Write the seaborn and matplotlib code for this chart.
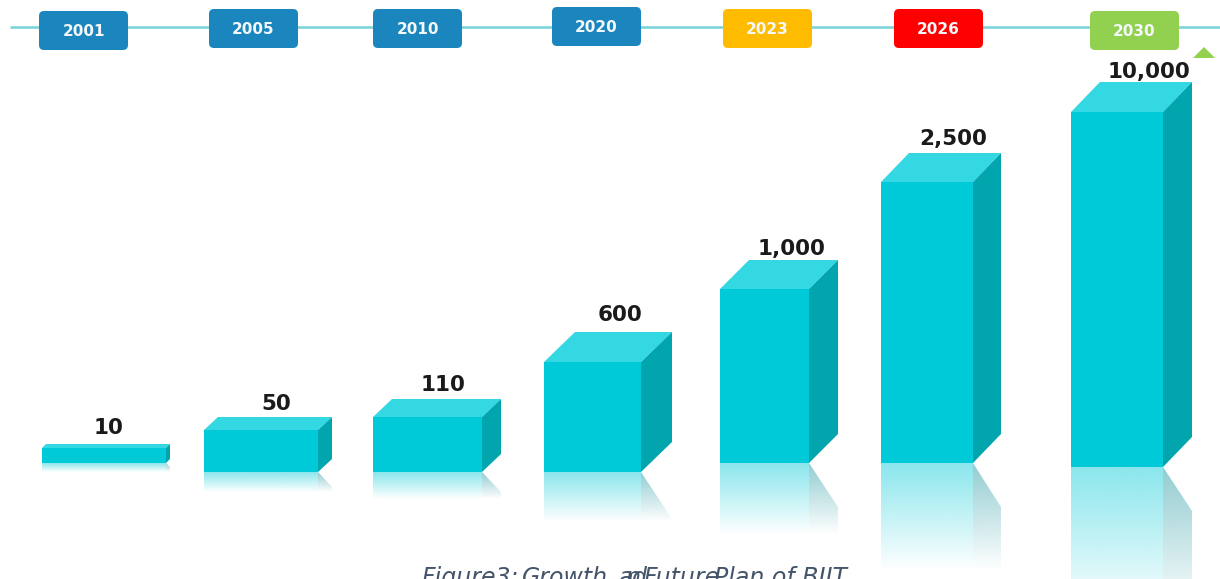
import numpy as np
import pandas as pd
import matplotlib
matplotlib.use("Agg")
import matplotlib.pyplot as plt
from matplotlib.patches import FancyBboxPatch, Polygon
from matplotlib.transforms import Affine2D
import seaborn as sns

# Chart data
years = ["2001", "2005", "2010", "2020", "2023", "2026", "2030"]
totals = [10, 50, 110, 600, 1000, 2500, 10000]
total_labels = ["10", "50", "110", "600", "1,000", "2,500", "10,000"]
caption_parts = ["Figure3:", "Growth", "a", "n", "d", "Future", "Plan of BIIT"]

# Layout, in pixels from the top-left corner of a 1220x579 canvas
W, H, BASE = 1220, 579, 472
bar_left = [42, 204, 373, 544, 720, 881, 1071]
bar_right = [166, 318, 482, 641, 809, 973, 1163]
bar_lift = [9, 0, 0, 0, 9, 9, 5]
depth_x = [4, 14, 19, 31, 29, 28, 29]
depth_y = [4, 13, 18, 30, 29, 29, 30]
echo_len = [9, 20, 27, 50, 72, 108, 150]
echo_slant = [4, 15, 20, 47, 44, 44, 44]
label_x = [108, 276, 443, 620, 791, 953, 1149]
label_y = [428, 404, 385, 315, 249, 139, 72]
badge_left = [39, 209, 373, 552, 723, 894, 1090]
badge_top = [11, 9, 9, 7, 9, 9, 11]
badge_w, badge_h = 89, 39
badge_colors = ["#1a86bd", "#1a86bd", "#1a86bd", "#1a86bd", "#ffbb00", "#ff0000", "#92d050"]
caption_x = [421, 522, 618, 625, 632, 643, 714]

FRONT, TOP, SIDE = "#00c9d8", "#33d8e2", "#00a5ae"
ECHO_FRONT, ECHO_SIDE = "#1fd0dc", "#2f9ea6"

# The value axis of this chart is pictorial: a piecewise scale from total to bar height
scale_v = np.array([-107, 0, 10, 50, 110, 600, 1000, 2500, 10000, 10117], dtype=float)
scale_px = np.array([-107, 0, 15, 42, 55, 110, 174, 281, 355, 472], dtype=float)


def to_px(v):
    return np.interp(v, scale_v, scale_px)


def from_px(p):
    return np.interp(p, scale_px, scale_v)


sns.set_theme(style="white")
plt.rcParams["font.family"] = ["DejaVu Sans"]

fig = plt.figure(figsize=(W / 100, H / 100), dpi=100, facecolor="white")
ax = fig.add_axes([0, 0, 1, 1])
table = pd.DataFrame({"year": years, "total": totals})
sns.barplot(data=table, x="year", y="total", order=years, color=FRONT,
            saturation=1, ax=ax)
ax.set_yscale("function", functions=(to_px, from_px))
ax.set_xlim(0, W)
ax.set_ylim(-107, 10117)
ax.set_axis_off()

# Place each front face on its own footing
for patch, left, right, lift in zip(ax.patches, bar_left, bar_right, bar_lift):
    patch.set_x(left)
    patch.set_width(right - left)
    patch.set_facecolor(FRONT)
    patch.set_edgecolor("none")
    patch.set_transform(ax.transData + Affine2D().translate(0, lift))

# Second layer in canvas pixels for the extruded faces, reflections and timeline
top_layer = fig.add_axes([0, 0, 1, 1], zorder=3)
top_layer.set_axis_off()


def echo(points, colour, y0, y1, zorder):
    """Fade a reflected face from half strength down to nothing."""
    ramp = np.linspace(0.52, 0, 64)[:, None]
    rgba = np.ones((64, 1, 4))
    rgba[..., :3] = matplotlib.colors.to_rgb(colour)
    rgba[..., 3] = ramp
    xs = [p[0] for p in points]
    img = top_layer.imshow(rgba, extent=(min(xs), max(xs), y1, y0), aspect="auto",
                           origin="upper", zorder=zorder, interpolation="bilinear")
    img.set_clip_path(Polygon(points, closed=True, transform=top_layer.transData))


for i, value in enumerate(totals):
    left, right = bar_left[i], bar_right[i]
    dx, dy = depth_x[i], depth_y[i]
    bottom = BASE - bar_lift[i]
    top = H - (ax.transData.transform((0, value))[1] + bar_lift[i])

    top_layer.add_patch(Polygon([(left, top), (left + dx, top - dy), (right + dx, top - dy),
                                 (right, top)], closed=True, fc=TOP, ec="none", zorder=2))
    top_layer.add_patch(Polygon([(right, top), (right + dx, top - dy),
                                 (right + dx, bottom - dy), (right, bottom)],
                                closed=True, fc=SIDE, ec="none", zorder=2))

    end = bottom + echo_len[i]
    echo([(left, bottom), (right, bottom), (right, end), (left, end)],
         ECHO_FRONT, bottom, end, 1)
    echo([(right, bottom), (right + dx, bottom + echo_slant[i]), (right + dx, end), (right, end)],
         ECHO_SIDE, bottom, end, 1)

    top_layer.text(label_x[i], label_y[i], total_labels[i], ha="center", va="center",
                   fontsize=15.5, fontweight="bold", color="#1a1a1a", zorder=5)

# Timeline with year badges
top_layer.plot([10, W], [27, 27], color="#7fd4dc", lw=1.9, zorder=3, solid_capstyle="butt")
for year, left, top, colour in zip(years, badge_left, badge_top, badge_colors):
    top_layer.add_patch(FancyBboxPatch((left + 5, top + 5), badge_w - 10, badge_h - 10,
                                       boxstyle="round,pad=5,rounding_size=5",
                                       fc=colour, ec="none", zorder=4))
    top_layer.text(left + badge_w / 2, top + badge_h / 2 + 0.5, year, ha="center", va="center",
                   fontsize=11, fontweight="bold", color="#f4f8fa", zorder=5)
top_layer.add_patch(Polygon([(1193, 58), (1204, 47), (1215, 58)], closed=True,
                            fc="#92d050", ec="none", zorder=4))

# Caption, with its uneven spacing, running off the lower edge
for part, x in zip(caption_parts, caption_x):
    top_layer.text(x, 585, part, ha="left", va="baseline", fontsize=17, style="italic",
                   color="#44546a", zorder=5)

top_layer.set_xlim(0, W)
top_layer.set_ylim(H, 0)

fig.savefig("out.png", dpi=100)
